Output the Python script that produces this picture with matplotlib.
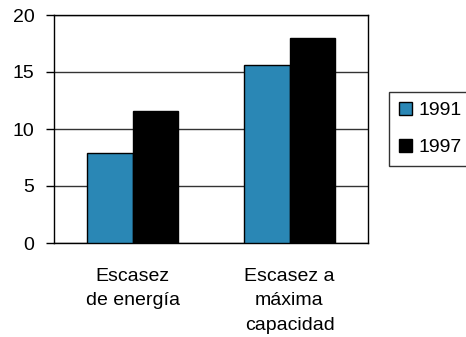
import matplotlib
matplotlib.use("Agg")
import matplotlib.pyplot as plt
import numpy as np
from matplotlib.patches import Patch

plt.rcParams['font.family'] = ['Liberation Sans', 'DejaVu Sans']

categories = ["Escasez\nde energía", "Escasez a\nmáxima\ncapacidad"]
years = ["1991", "1997"]
values_1991 = [7.9, 15.6]
values_1997 = [11.6, 18.0]
colors = ["#2a87b5", "#000000"]
yticks = [0, 5, 10, 15, 20]

fig = plt.figure(figsize=(4.66, 3.37), dpi=100)
ax = fig.add_axes([54 / 466, 1 - 243 / 337, 314 / 466, 228 / 337])

x = np.arange(len(categories))
w = 0.29
ax.bar(x - w / 2, values_1991, w, color=colors[0], edgecolor="black", linewidth=1, zorder=3)
ax.bar(x + w / 2, values_1997, w, color=colors[1], edgecolor="black", linewidth=1, zorder=3)

ax.set_xlim(-0.5, 1.5)
ax.set_ylim(0, 20)
ax.set_yticks(yticks)
ax.set_yticklabels([str(t) for t in yticks], fontsize=14)
ax.tick_params(axis='y', length=6, width=1, pad=8, colors='black')
ax.set_xticks(x)
ax.set_xticklabels(categories, fontsize=14, linespacing=1.56)
ax.tick_params(axis='x', length=0, pad=18)
ax.grid(axis='y', color='#333333', linewidth=1, zorder=0)
for s in ax.spines.values():
    s.set_linewidth(1)
    s.set_color('black')

handles = [Patch(facecolor=c, edgecolor='black', linewidth=1) for c in colors]
leg = fig.legend(handles, years, loc='center left',
                 bbox_to_anchor=(389 / 466, 1 - 129 / 337),
                 fontsize=14, frameon=True, fancybox=False,
                 handlelength=0.68, handleheight=0.68, handletextpad=0.35,
                 labelspacing=1.02, borderpad=0.5, borderaxespad=0)
leg.get_frame().set_edgecolor('black')
leg.get_frame().set_linewidth(1)

fig.savefig("out.png", dpi=100)
